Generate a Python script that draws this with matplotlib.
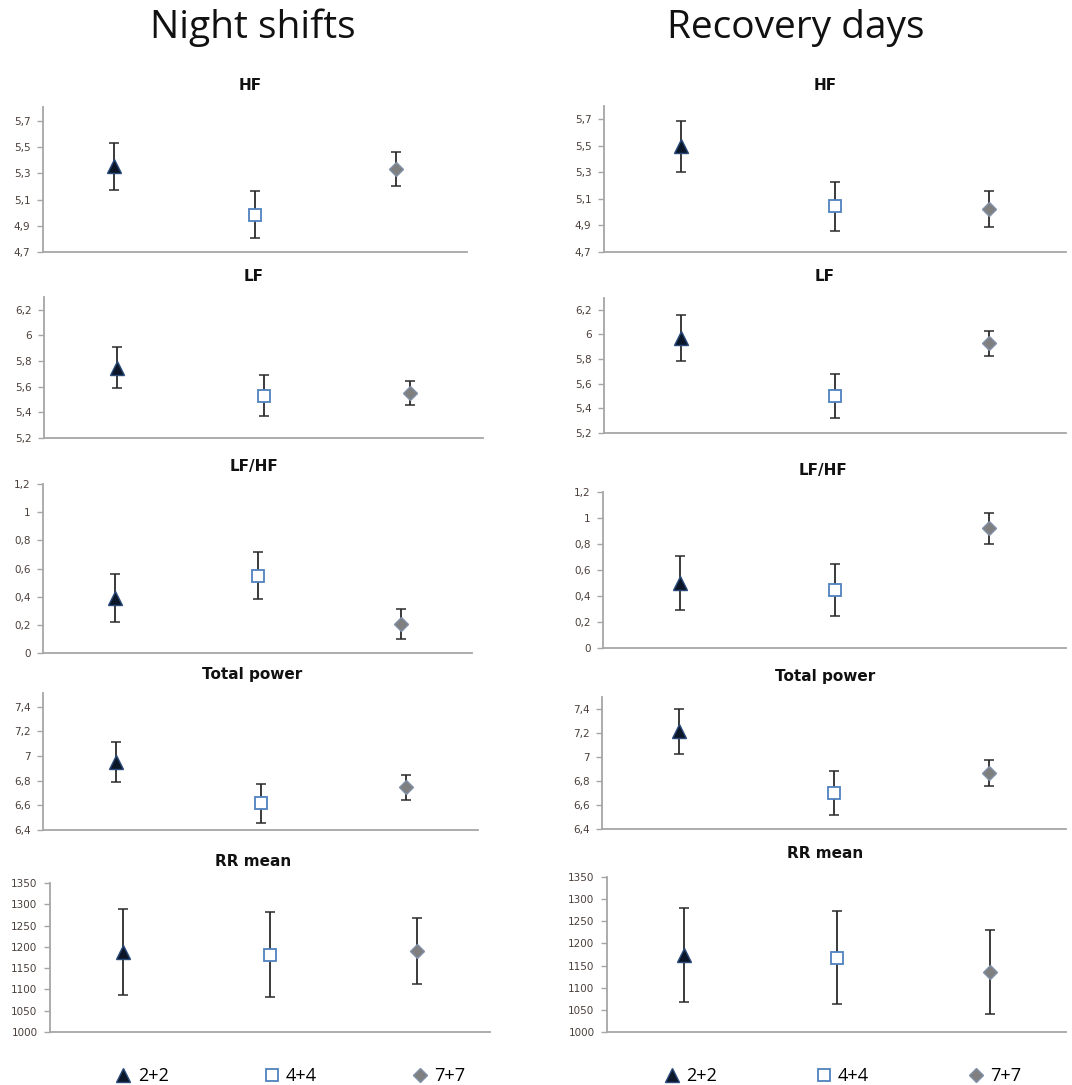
import matplotlib
matplotlib.use('Agg')
import matplotlib.pyplot as plt
from matplotlib.lines import Line2D

# groups (shift schedules) and panels
groups = ['2+2', '4+4', '7+7']
panel_names = ['HF', 'LF', 'LF/HF', 'Total power', 'RR mean']

# Night shifts: means and error bar half-lengths
night_hf = [5.355, 4.985, 5.335]
night_hf_err = [0.18, 0.18, 0.13]
night_lf = [5.75, 5.53, 5.55]
night_lf_err = [0.16, 0.16, 0.096]
night_ratio = [0.39, 0.55, 0.205]
night_ratio_err = [0.17, 0.17, 0.105]
night_tp = [6.95, 6.615, 6.745]
night_tp_err = [0.162, 0.16, 0.10]
night_rr = [1188, 1182, 1190]
night_rr_err = [101, 100, 78]

# Recovery days
rec_hf = [5.495, 5.043, 5.025]
rec_hf_err = [0.19, 0.183, 0.134]
rec_lf = [5.97, 5.50, 5.928]
rec_lf_err = [0.19, 0.182, 0.10]
rec_ratio = [0.50, 0.446, 0.92]
rec_ratio_err = [0.205, 0.20, 0.12]
rec_tp = [7.21, 6.70, 6.863]
rec_tp_err = [0.19, 0.18, 0.106]
rec_rr = [1174, 1168, 1136]
rec_rr_err = [107, 105, 95]

# y ticks for each panel
ticks_hf = [4.7, 4.9, 5.1, 5.3, 5.5, 5.7]
ticks_lf = [5.2, 5.4, 5.6, 5.8, 6.0, 6.2]
ticks_ratio = [0, 0.2, 0.4, 0.6, 0.8, 1.0, 1.2]
ticks_tp = [6.4, 6.6, 6.8, 7.0, 7.2, 7.4]
ticks_rr = [1000, 1050, 1100, 1150, 1200, 1250, 1300, 1350]

W, H = 1072, 1085
fig = plt.figure(figsize=(W / 100, H / 100), dpi=100)

styles = [
    dict(marker='^', markersize=10, markerfacecolor='#0b1628', markeredgecolor='#2a4a7a'),
    dict(marker='s', markersize=9, markerfacecolor='white', markeredgecolor='#4f81bd', markeredgewidth=1.3),
    dict(marker='D', markersize=7, markerfacecolor='#7f7f7f', markeredgecolor='#8090a8'),
]
narrow = ['Open Sans', 'DejaVu Sans']


def fmt(v):
    if abs(v - round(v)) < 1e-9:
        return str(int(round(v)))
    return ('%g' % v).replace('.', ',')


def panel(box, means, errs, ticks, top, title, title_xy):
    x0, y0, x1, y1 = box
    ax = fig.add_axes([x0 / W, 1 - y1 / H, (x1 - x0) / W, (y1 - y0) / H])
    for i in range(3):
        ax.errorbar(i + 0.5, means[i], yerr=errs[i], fmt='none', ecolor='#2b2b2b',
                    elinewidth=1.3, capsize=3.5, capthick=1.1, zorder=2)
        ax.plot(i + 0.5, means[i], linestyle='none', zorder=3, **styles[i])
    ax.set_xlim(0, 3)
    ax.set_ylim(ticks[0], top)
    ax.set_yticks(ticks)
    ax.set_yticklabels([fmt(t) for t in ticks])
    ax.set_xticks([])
    for s in ['top', 'right']:
        ax.spines[s].set_visible(False)
    for s in ['left', 'bottom']:
        ax.spines[s].set_color('#a6a6a6')
        ax.spines[s].set_linewidth(1.3)
    ax.tick_params(axis='y', length=4, width=1, color='#a6a6a6', labelsize=7.5,
                   labelcolor='#4a3f3a', pad=5)
    fig.text(title_xy[0] / W, 1 - title_xy[1] / H, title, ha='center', va='center',
             fontsize=11, fontweight='bold', color='#111111')
    return ax


# left column: Night shifts
panel((43, 107, 467, 252), night_hf, night_hf_err, ticks_hf, 5.807, panel_names[0], (250, 86))
panel((44, 297, 483, 438), night_lf, night_lf_err, ticks_lf, 6.3, panel_names[1], (254, 277))
panel((43, 484, 472, 653), night_ratio, night_ratio_err, ticks_ratio, 1.2, panel_names[2], (254, 466))
panel((43, 693, 478, 830), night_tp, night_tp_err, ticks_tp, 7.51, panel_names[3], (252, 674))
panel((50, 883, 490, 1032), night_rr, night_rr_err, ticks_rr, 1350, panel_names[4], (253, 861))

# right column: Recovery days
panel((604, 106, 1066, 252), rec_hf, rec_hf_err, ticks_hf, 5.8, panel_names[0], (825, 86))
panel((604, 298, 1066, 433), rec_lf, rec_lf_err, ticks_lf, 6.295, panel_names[1], (825, 277))
panel((603, 492, 1066, 648), rec_ratio, rec_ratio_err, ticks_ratio, 1.2, panel_names[2], (823, 470))
panel((602, 697, 1066, 829), rec_tp, rec_tp_err, ticks_tp, 7.496, panel_names[3], (825, 677))
panel((607, 877, 1066, 1032), rec_rr, rec_rr_err, ticks_rr, 1350, panel_names[4], (825, 853))

# column headers
fig.text(253 / W, 1 - 28 / H, 'Night shifts', ha='center', va='center', fontsize=28,
         family=narrow, color='#111111')
fig.text(796 / W, 1 - 28 / H, 'Recovery days', ha='center', va='center', fontsize=28,
         family=narrow, color='#111111')

# legends under each column
handles = [Line2D([], [], linestyle='none', **st) for st in styles]
for cx, sp in [(290, 5.2), (842, 5.4)]:
    fig.legend(handles, groups, loc='center', bbox_to_anchor=(cx / W, 1 - 1076 / H), ncol=3,
               frameon=False, columnspacing=sp, handlelength=1.0, handletextpad=0.3,
               prop={'family': narrow, 'size': 13})

plt.savefig('out.png', dpi=100)
